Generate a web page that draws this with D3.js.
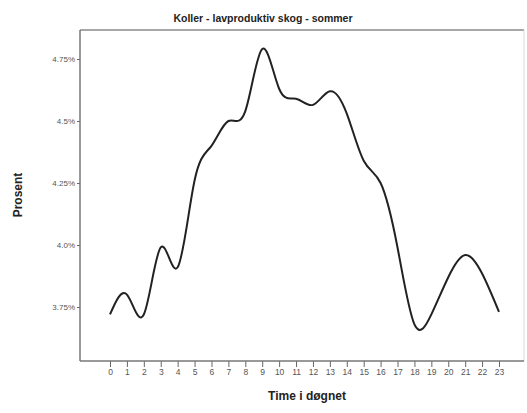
<!DOCTYPE html>
<html>
<head>
<meta charset="utf-8">
<script src="https://cdn.jsdelivr.net/npm/d3@7"></script>
<style>
body { margin: 0; background: #fff; }
svg { font-family: "Liberation Sans", Arial, sans-serif; }
</style>
</head>
<body>
<div id="chart"></div>
<script>
// timer i døgnet og andel (prosent)
var hours = d3.range(0, 24);
var prosent = [3.72, 3.80, 3.72, 3.99, 3.91, 4.26, 4.40, 4.50, 4.54, 4.79, 4.63, 4.59, 4.565, 4.62, 4.53,
               4.34, 4.25, 3.99, 3.68, 3.72, 3.87, 3.96, 3.885, 3.73];
var yTicks = [3.75, 4.0, 4.25, 4.5, 4.75];
var yTickLabels = ["3.75%", "4.0%", "4.25%", "4.5%", "4.75%"];

var W = 527, H = 413;
var box = {left: 80, right: 524, top: 30, bottom: 361};

var svg = d3.select("#chart").append("svg")
    .attr("width", W)
    .attr("height", H);

var x = d3.scaleLinear()
    .domain([0, 23])
    .range([110, 499]);

var y = d3.scaleLinear()
    .domain([3.75, 4.75])
    .range([307, 59]);

// ramme
svg.append("line")
    .attr("x1", box.left).attr("x2", box.right)
    .attr("y1", box.top).attr("y2", box.top)
    .style("stroke", "#8a8a8a").style("stroke-width", 1.5);
svg.append("line")
    .attr("x1", box.right).attr("x2", box.right)
    .attr("y1", box.top).attr("y2", box.bottom)
    .style("stroke", "#d8d8d8").style("stroke-width", 1);

// y-akse
var yAxis = svg.append("g")
    .attr("transform", "translate(" + box.left + ",0)")
    .call(d3.axisLeft(y)
        .tickValues(yTicks)
        .tickSize(3)
        .tickPadding(2)
        .tickFormat(function(d, i) { return yTickLabels[i]; }));
yAxis.select(".domain").remove();
yAxis.selectAll("text").style("font-size", "8px").style("fill", "#555");
yAxis.selectAll("line").style("stroke", "#666");
svg.append("line")
    .attr("x1", box.left).attr("x2", box.left)
    .attr("y1", box.top).attr("y2", box.bottom)
    .style("stroke", "#777").style("stroke-width", 1.5);

// x-akse
var xAxis = svg.append("g")
    .attr("transform", "translate(0," + box.bottom + ")")
    .call(d3.axisBottom(x)
        .tickValues(hours)
        .tickSize(6)
        .tickPadding(2)
        .tickFormat(d3.format("d")));
xAxis.select(".domain").remove();
xAxis.selectAll("text").style("font-size", "8.5px").style("fill", "#555");
xAxis.selectAll("line").style("stroke", "#666");
svg.append("line")
    .attr("x1", box.left).attr("x2", box.right)
    .attr("y1", box.bottom).attr("y2", box.bottom)
    .style("stroke", "#777").style("stroke-width", 1.5);

// kurve
var line = d3.line()
    .x(function(d, i) { return x(hours[i]); })
    .y(function(d) { return y(d); })
    .curve(d3.curveNatural);

svg.append("path")
    .datum(prosent)
    .attr("d", line)
    .style("fill", "none")
    .style("stroke", "#222")
    .style("stroke-width", 2);

// titler
svg.append("text")
    .attr("x", 263).attr("y", 22)
    .style("text-anchor", "middle")
    .style("font-size", "10.5px")
    .style("font-weight", "bold")
    .style("fill", "#222")
    .text("Koller - lavproduktiv skog - sommer");

svg.append("text")
    .attr("x", 307).attr("y", 400)
    .style("text-anchor", "middle")
    .style("font-size", "12px")
    .style("font-weight", "bold")
    .style("fill", "#222")
    .text("Time i døgnet");

svg.append("text")
    .attr("transform", "translate(22,195) rotate(-90)")
    .style("text-anchor", "middle")
    .style("font-size", "12px")
    .style("font-weight", "bold")
    .style("fill", "#222")
    .text("Prosent");
</script>
</body>
</html>
